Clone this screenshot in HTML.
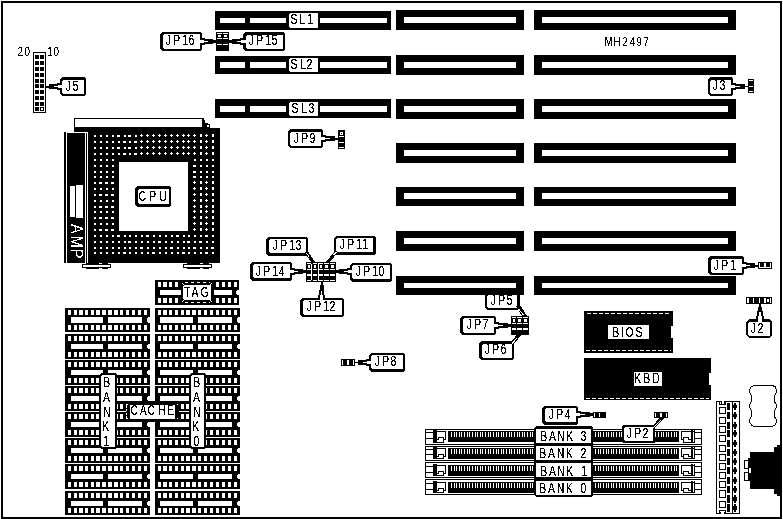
<!DOCTYPE html>
<html lang="en">
<head>
<meta charset="utf-8">
<title>MH2497 motherboard layout</title>
<style>
html,body{margin:0;padding:0;background:#fff;overflow:hidden}
svg{display:block;font-family:"Liberation Sans",sans-serif;font-kerning:none}
</style>
</head>
<body>
<svg width="783" height="519" viewBox="0 0 783 519">
<defs>
<filter id="bw" x="0" y="0" width="783" height="519" filterUnits="userSpaceOnUse" color-interpolation-filters="sRGB">
<feComponentTransfer><feFuncA type="discrete" tableValues="0 0 1 1 1"/></feComponentTransfer>
</filter>
<filter id="bw2" x="0" y="0" width="783" height="519" filterUnits="userSpaceOnUse" color-interpolation-filters="sRGB">
<feComponentTransfer><feFuncA type="discrete" tableValues="0 1"/></feComponentTransfer>
</filter>
</defs>
<rect width="783" height="519" fill="#fff"/>
<g shape-rendering="crispEdges">
<rect x="1" y="1" width="781" height="518" fill="#000"/>
<rect x="3" y="3" width="777" height="514" fill="#fff"/>
<rect x="215" y="11" width="176" height="19" fill="#000"/>
<rect x="220" y="18" width="25" height="5" fill="#fff"/>
<rect x="250" y="18" width="137" height="5" fill="#fff"/>
<rect x="286" y="18" width="34" height="5" fill="#000"/>
<polygon points="290,13 317,13 318,14 318,27 317,28 290,28 289,27 289,14" fill="#fff"/>
<rect x="215" y="56" width="176" height="18" fill="#000"/>
<rect x="220" y="62" width="25" height="6" fill="#fff"/>
<rect x="250" y="62" width="137" height="6" fill="#fff"/>
<rect x="286" y="62" width="34" height="6" fill="#000"/>
<polygon points="290,58 317,58 318,59 318,71 317,72 290,72 289,71 289,59" fill="#fff"/>
<rect x="215" y="99" width="176" height="19" fill="#000"/>
<rect x="220" y="106" width="25" height="6" fill="#fff"/>
<rect x="250" y="106" width="137" height="6" fill="#fff"/>
<rect x="286" y="106" width="34" height="6" fill="#000"/>
<polygon points="290,102 317,102 318,103 318,115 317,116 290,116 289,115 289,103" fill="#fff"/>
<rect x="396" y="10" width="128" height="20" fill="#000"/>
<rect x="404" y="17" width="112" height="6" fill="#fff"/>
<rect x="534" y="10" width="202" height="20" fill="#000"/>
<rect x="542" y="17" width="186" height="6" fill="#fff"/>
<rect x="396" y="55" width="128" height="20" fill="#000"/>
<rect x="404" y="62" width="112" height="6" fill="#fff"/>
<rect x="534" y="55" width="202" height="20" fill="#000"/>
<rect x="542" y="62" width="186" height="6" fill="#fff"/>
<rect x="396" y="99" width="128" height="20" fill="#000"/>
<rect x="404" y="106" width="112" height="6" fill="#fff"/>
<rect x="534" y="99" width="202" height="20" fill="#000"/>
<rect x="542" y="106" width="186" height="6" fill="#fff"/>
<rect x="396" y="143" width="128" height="20" fill="#000"/>
<rect x="404" y="150" width="112" height="6" fill="#fff"/>
<rect x="534" y="143" width="202" height="20" fill="#000"/>
<rect x="542" y="150" width="186" height="6" fill="#fff"/>
<rect x="396" y="187" width="128" height="19" fill="#000"/>
<rect x="404" y="193" width="112" height="6" fill="#fff"/>
<rect x="534" y="187" width="202" height="19" fill="#000"/>
<rect x="542" y="193" width="186" height="6" fill="#fff"/>
<rect x="396" y="231" width="128" height="20" fill="#000"/>
<rect x="404" y="238" width="112" height="6" fill="#fff"/>
<rect x="534" y="231" width="202" height="20" fill="#000"/>
<rect x="542" y="238" width="186" height="6" fill="#fff"/>
<rect x="396" y="276" width="128" height="19" fill="#000"/>
<rect x="404" y="283" width="112" height="5" fill="#fff"/>
<rect x="534" y="276" width="202" height="19" fill="#000"/>
<rect x="542" y="283" width="186" height="5" fill="#fff"/>
<rect x="33" y="52" width="13" height="61" fill="#000"/>
<rect x="34" y="53" width="11" height="59" fill="#fff"/>
<rect x="35" y="55" width="4" height="4" fill="#000"/>
<rect x="40" y="55" width="4" height="4" fill="#000"/>
<rect x="35" y="61" width="4" height="4" fill="#000"/>
<rect x="40" y="61" width="4" height="4" fill="#000"/>
<rect x="35" y="67" width="4" height="4" fill="#000"/>
<rect x="40" y="67" width="4" height="4" fill="#000"/>
<rect x="35" y="73" width="4" height="4" fill="#000"/>
<rect x="40" y="73" width="4" height="4" fill="#000"/>
<rect x="35" y="79" width="4" height="4" fill="#000"/>
<rect x="40" y="79" width="4" height="4" fill="#000"/>
<rect x="35" y="84" width="4" height="4" fill="#000"/>
<rect x="40" y="84" width="4" height="4" fill="#000"/>
<rect x="35" y="90" width="4" height="4" fill="#000"/>
<rect x="40" y="90" width="4" height="4" fill="#000"/>
<rect x="35" y="96" width="4" height="4" fill="#000"/>
<rect x="40" y="96" width="4" height="4" fill="#000"/>
<rect x="35" y="102" width="4" height="4" fill="#000"/>
<rect x="40" y="102" width="4" height="4" fill="#000"/>
<rect x="35" y="107" width="4" height="4" fill="#000"/>
<rect x="40" y="107" width="4" height="4" fill="#000"/>
<rect x="41" y="108" width="2" height="2" fill="#fff"/>
<polygon points="62,77 84,77 86,79 86,94 84,96 62,96 60,94 60,79" fill="#000"/>
<polygon points="63,80 83,80 84,81 84,93 83,94 63,94 62,93 62,81" fill="#fff"/>
<path d="M57 83H62V85H57zM49 84H58V86H49zM49 87H59V89H49zM57 88H62V90H57zM49 84H54V89H49zM46 86H54V87H46zM46 86H49V88H46z" fill="#000"/>
<path d="M58 85H62V88H58zM54 86H58V87H54z" fill="#fff"/>
<polygon points="162,32 200,32 202,34 202,49 200,51 162,51 160,49 160,34" fill="#000"/>
<polygon points="164,34 199,34 200,35 200,48 199,49 164,49 163,48 163,35" fill="#fff"/>
<path d="M200 38H205V40H200zM204 39H213V41H204zM203 42H213V44H203zM200 43H205V45H200zM208 39H213V44H208zM208 41H216V42H208zM213 40H216V43H213z" fill="#000"/>
<path d="M200 40H204V43H200zM204 41H208V42H204z" fill="#fff"/>
<polygon points="245,32 283,32 285,34 285,49 283,51 245,51 243,49 243,34" fill="#000"/>
<polygon points="247,35 282,35 283,36 283,48 282,49 247,49 246,48 246,36" fill="#fff"/>
<path d="M240 38H246V40H240zM232 39H241V41H232zM232 42H242V44H232zM240 43H246V45H240zM232 39H237V44H232zM229 41H237V42H229zM229 40H232V43H229z" fill="#000"/>
<path d="M241 40H246V43H241zM237 41H241V42H237z" fill="#fff"/>
<rect x="216" y="32" width="13" height="19" fill="#000"/>
<rect x="217" y="33" width="5" height="1" fill="#fff"/>
<rect x="218" y="35" width="3" height="2" fill="#fff"/>
<rect x="217" y="38" width="5" height="1" fill="#fff"/>
<rect x="217" y="44" width="5" height="1" fill="#fff"/>
<rect x="223" y="33" width="5" height="1" fill="#fff"/>
<rect x="224" y="35" width="3" height="2" fill="#fff"/>
<rect x="223" y="38" width="5" height="1" fill="#fff"/>
<rect x="223" y="44" width="5" height="1" fill="#fff"/>
<polygon points="290,129 321,129 323,131 323,146 321,148 290,148 288,146 288,131" fill="#000"/>
<polygon points="291,132 320,132 321,133 321,145 320,146 291,146 290,145 290,133" fill="#fff"/>
<path d="M321 135H326V137H321zM325 136H335V138H325zM324 139H335V141H324zM321 140H326V142H321zM330 136H335V141H330zM329 138H338V139H329zM335 138H338V140H335z" fill="#000"/>
<path d="M321 137H325V140H321zM325 138H330V139H325z" fill="#fff"/>
<rect x="338" y="130" width="7" height="19" fill="#000"/>
<rect x="340" y="132" width="3" height="3" fill="#fff"/>
<rect x="341" y="133" width="1" height="1" fill="#000"/>
<rect x="339" y="136" width="5" height="1" fill="#fff"/>
<rect x="339" y="142" width="5" height="1" fill="#fff"/>
<rect x="339" y="147" width="5" height="1" fill="#fff"/>
<polygon points="710,77 731,77 733,79 733,94 731,96 710,96 708,94 708,79" fill="#000"/>
<polygon points="711,80 730,80 731,81 731,93 730,94 711,94 710,93 710,81" fill="#fff"/>
<path d="M731 83H736V85H731zM735 84H745V86H735zM734 87H745V89H734zM731 88H736V90H731zM740 84H745V89H740zM739 86H748V87H739zM745 86H748V87H745z" fill="#000"/>
<path d="M731 85H735V88H731zM735 86H740V87H735z" fill="#fff"/>
<rect x="748" y="79" width="6" height="14" fill="#000"/>
<rect x="749" y="80" width="4" height="1" fill="#fff"/>
<rect x="749" y="86" width="4" height="1" fill="#fff"/>
<rect x="749" y="91" width="4" height="1" fill="#fff"/>
<polygon points="710,256 742,256 744,258 744,273 742,275 710,275 708,273 708,258" fill="#000"/>
<polygon points="712,259 741,259 742,260 742,272 741,273 712,273 711,272 711,260" fill="#fff"/>
<path d="M742 262H747V264H742zM746 263H755V265H746zM745 266H755V268H745zM742 267H747V269H742zM750 263H755V268H750zM750 265H758V266H750zM755 265H758V267H755z" fill="#000"/>
<path d="M742 264H746V267H742zM746 265H750V266H746z" fill="#fff"/>
<rect x="758" y="262" width="14" height="7" fill="#000"/>
<path d="M759 263H760V267H759zM764 263H766V267H764zM770 263H771V267H770zM759 267H771V268H759z" fill="#fff"/>
<rect x="746" y="297" width="26" height="7" fill="#000"/>
<rect x="747" y="298" width="2" height="5" fill="#fff"/>
<rect x="753" y="298" width="1" height="5" fill="#fff"/>
<rect x="759" y="298" width="1" height="5" fill="#fff"/>
<rect x="764" y="298" width="2" height="5" fill="#fff"/>
<rect x="770" y="298" width="1" height="5" fill="#fff"/>
<rect x="767" y="299" width="2" height="3" fill="#fff"/>
<polygon points="749,319 769,319 772,322 772,335 769,338 749,338 746,335 746,322" fill="#000"/>
<polygon points="749,322 769,322 770,323 770,335 769,336 749,336 748,335 748,323" fill="#fff"/>
<path d="M759 304H761V307H759zM758 307H762V313H758zM757 311H759V318H757zM761 311H763V318H761zM756 316H758V320H756zM762 316H764V320H762z" fill="#000"/>
<path d="M759 312H761V316H759zM758 316H762V322H758z" fill="#fff"/>
<rect x="74" y="118" width="130" height="10" fill="#000"/>
<rect x="75" y="119" width="127" height="8" fill="#fff"/>
<polygon points="202,118 204,118 204,120 205,120 205,123 208,123 208,124 210,124 210,128 202,128" fill="#000"/>
<rect x="207" y="125" width="2" height="2" fill="#fff"/>
<rect x="74" y="127" width="136" height="136" fill="#000"/>
<rect x="210" y="128" width="10" height="135" fill="#000"/>
<path d="M94 135h2v2h-2zM100 135h2v2h-2zM106 135h2v2h-2zM112 135h2v2h-2zM117 135h3v2h-3zM124 135h2v2h-2zM128 135h3v2h-3zM135 135h2v2h-2zM141 134h1v1h1v1h-1v1h-1v-1h-1v-1h1zM147 134h1v1h1v1h-1v1h-1v-1h-1v-1h1zM153 134h1v1h1v1h-1v1h-1v-1h-1v-1h1zM159 134h1v1h1v1h-1v1h-1v-1h-1v-1h1zM165 134h1v1h1v1h-1v1h-1v-1h-1v-1h1zM171 134h1v1h1v1h-1v1h-1v-1h-1v-1h1zM177 134h1v1h1v1h-1v1h-1v-1h-1v-1h1zM183 134h1v1h1v1h-1v1h-1v-1h-1v-1h1zM188 134h1v1h1v1h-1v1h-1v-1h-1v-1h1zM194 134h1v1h1v1h-1v1h-1v-1h-1v-1h1zM200 134h2v3h-2zM206 134h1v1h1v1h-1v1h-1v-1h-1v-1h1zM212 134h2v3h-2zM94 141h2v2h-2zM100 141h2v2h-2zM106 141h2v2h-2zM112 141h2v2h-2zM118 141h2v2h-2zM123 141h3v2h-3zM129 141h2v2h-2zM134 141h3v2h-3zM141 140h1v1h1v1h-1v1h-1v-1h-1v-1h1zM147 140h1v1h1v1h-1v1h-1v-1h-1v-1h1zM153 140h1v1h1v1h-1v1h-1v-1h-1v-1h1zM159 140h1v1h1v1h-1v1h-1v-1h-1v-1h1zM165 140h1v1h1v1h-1v1h-1v-1h-1v-1h1zM171 140h1v1h1v1h-1v1h-1v-1h-1v-1h1zM177 140h1v1h1v1h-1v1h-1v-1h-1v-1h1zM183 140h1v1h1v1h-1v1h-1v-1h-1v-1h1zM188 140h1v1h1v1h-1v1h-1v-1h-1v-1h1zM194 140h1v1h1v1h-1v1h-1v-1h-1v-1h1zM200 140h2v3h-2zM206 140h1v1h1v1h-1v1h-1v-1h-1v-1h1zM212 140h2v3h-2zM94 147h2v2h-2zM100 147h2v2h-2zM106 147h2v2h-2zM112 147h2v2h-2zM117 147h3v2h-3zM124 147h2v2h-2zM128 147h3v2h-3zM135 147h2v2h-2zM141 146h1v1h1v1h-1v1h-1v-1h-1v-1h1zM147 146h1v1h1v1h-1v1h-1v-1h-1v-1h1zM153 146h1v1h1v1h-1v1h-1v-1h-1v-1h1zM159 146h1v1h1v1h-1v1h-1v-1h-1v-1h1zM165 146h1v1h1v1h-1v1h-1v-1h-1v-1h1zM171 146h1v1h1v1h-1v1h-1v-1h-1v-1h1zM177 146h1v1h1v1h-1v1h-1v-1h-1v-1h1zM183 146h1v1h1v1h-1v1h-1v-1h-1v-1h1zM188 146h1v1h1v1h-1v1h-1v-1h-1v-1h1zM194 146h1v1h1v1h-1v1h-1v-1h-1v-1h1zM200 146h2v3h-2zM206 146h1v1h1v1h-1v1h-1v-1h-1v-1h1zM212 146h2v3h-2zM94 153h2v2h-2zM100 153h2v2h-2zM106 153h2v2h-2zM112 153h2v2h-2zM118 153h2v2h-2zM123 153h3v2h-3zM129 153h2v2h-2zM134 153h3v2h-3zM141 152h1v1h1v1h-1v1h-1v-1h-1v-1h1zM147 152h1v1h1v1h-1v1h-1v-1h-1v-1h1zM153 152h1v1h1v1h-1v1h-1v-1h-1v-1h1zM159 152h1v1h1v1h-1v1h-1v-1h-1v-1h1zM165 152h1v1h1v1h-1v1h-1v-1h-1v-1h1zM171 152h1v1h1v1h-1v1h-1v-1h-1v-1h1zM177 152h1v1h1v1h-1v1h-1v-1h-1v-1h1zM183 152h1v1h1v1h-1v1h-1v-1h-1v-1h1zM188 152h1v1h1v1h-1v1h-1v-1h-1v-1h1zM194 152h1v1h1v1h-1v1h-1v-1h-1v-1h1zM200 152h2v3h-2zM206 152h1v1h1v1h-1v1h-1v-1h-1v-1h1zM212 152h2v3h-2zM94 159h2v2h-2zM100 159h2v2h-2zM106 159h2v2h-2zM112 159h2v2h-2zM194 159h2v2h-2zM200 159h2v2h-2zM206 159h2v2h-2zM212 159h2v2h-2zM94 165h2v2h-2zM100 165h2v2h-2zM106 165h2v2h-2zM112 165h2v2h-2zM193 165h3v2h-3zM200 165h2v2h-2zM206 165h2v2h-2zM212 165h2v2h-2zM94 171h2v2h-2zM100 171h2v2h-2zM106 171h2v2h-2zM112 171h2v2h-2zM193 171h3v2h-3zM200 171h2v2h-2zM206 171h2v2h-2zM212 171h2v2h-2zM94 176h2v2h-2zM100 176h2v2h-2zM106 176h2v2h-2zM112 176h2v2h-2zM193 176h3v2h-3zM200 176h2v2h-2zM206 176h2v2h-2zM212 176h2v2h-2zM94 182h2v2h-2zM99 182h3v2h-3zM105 182h3v2h-3zM111 182h3v2h-3zM194 181h1v1h1v1h-1v1h-1v-1h-1v-1h1zM200 181h2v3h-2zM206 181h1v1h1v1h-1v1h-1v-1h-1v-1h1zM212 181h2v3h-2zM94 188h2v2h-2zM100 188h2v2h-2zM106 188h2v2h-2zM112 188h2v2h-2zM194 187h1v1h1v1h-1v1h-1v-1h-1v-1h1zM200 187h2v3h-2zM206 187h1v1h1v1h-1v1h-1v-1h-1v-1h1zM212 187h2v3h-2zM94 194h2v2h-2zM99 194h3v2h-3zM105 194h3v2h-3zM111 194h3v2h-3zM194 193h1v1h1v1h-1v1h-1v-1h-1v-1h1zM200 193h2v3h-2zM206 193h1v1h1v1h-1v1h-1v-1h-1v-1h1zM212 193h2v3h-2zM94 200h2v2h-2zM100 200h2v2h-2zM106 200h2v2h-2zM112 200h2v2h-2zM194 199h1v1h1v1h-1v1h-1v-1h-1v-1h1zM200 199h2v3h-2zM206 199h1v1h1v1h-1v1h-1v-1h-1v-1h1zM212 199h2v3h-2zM94 206h2v2h-2zM99 206h3v2h-3zM105 206h3v2h-3zM111 206h3v2h-3zM194 205h1v1h1v1h-1v1h-1v-1h-1v-1h1zM200 205h2v3h-2zM206 205h1v1h1v1h-1v1h-1v-1h-1v-1h1zM212 205h2v3h-2zM94 211h2v2h-2zM100 211h2v2h-2zM106 211h2v2h-2zM112 211h2v2h-2zM194 210h1v1h1v1h-1v1h-1v-1h-1v-1h1zM200 210h2v3h-2zM206 210h1v1h1v1h-1v1h-1v-1h-1v-1h1zM212 210h2v3h-2zM94 217h2v2h-2zM99 217h3v2h-3zM105 217h3v2h-3zM111 217h3v2h-3zM194 216h1v1h1v1h-1v1h-1v-1h-1v-1h1zM200 216h2v3h-2zM206 216h1v1h1v1h-1v1h-1v-1h-1v-1h1zM212 216h2v3h-2zM94 223h2v2h-2zM100 223h2v2h-2zM106 223h2v2h-2zM112 223h2v2h-2zM194 222h1v1h1v1h-1v1h-1v-1h-1v-1h1zM200 222h2v3h-2zM206 222h1v1h1v1h-1v1h-1v-1h-1v-1h1zM212 222h2v3h-2zM94 229h2v2h-2zM99 229h3v2h-3zM105 229h3v2h-3zM111 229h3v2h-3zM194 228h1v1h1v1h-1v1h-1v-1h-1v-1h1zM200 228h2v3h-2zM206 228h1v1h1v1h-1v1h-1v-1h-1v-1h1zM212 228h2v3h-2zM94 235h2v2h-2zM100 235h2v2h-2zM106 235h2v2h-2zM112 235h2v2h-2zM117 235h3v2h-3zM124 235h2v2h-2zM129 235h2v2h-2zM135 235h2v2h-2zM141 235h2v2h-2zM146 235h3v2h-3zM153 235h2v2h-2zM159 235h2v2h-2zM165 235h2v2h-2zM171 235h2v2h-2zM176 235h3v2h-3zM183 235h2v2h-2zM188 235h2v2h-2zM194 235h2v2h-2zM200 235h2v2h-2zM205 235h3v2h-3zM212 235h2v2h-2zM94 241h2v2h-2zM100 241h2v2h-2zM106 241h2v2h-2zM112 241h2v2h-2zM118 241h2v2h-2zM124 241h2v2h-2zM128 241h3v2h-3zM135 241h2v2h-2zM141 241h2v2h-2zM147 241h2v2h-2zM153 241h2v2h-2zM158 241h3v2h-3zM165 241h2v2h-2zM171 241h2v2h-2zM177 241h2v2h-2zM183 241h2v2h-2zM187 241h3v2h-3zM194 241h2v2h-2zM199 241h3v2h-3zM206 241h2v2h-2zM212 241h2v2h-2zM94 247h2v2h-2zM100 247h2v2h-2zM106 247h2v2h-2zM112 247h2v2h-2zM118 247h2v2h-2zM124 247h2v2h-2zM129 247h2v2h-2zM135 247h2v2h-2zM140 247h3v2h-3zM147 247h2v2h-2zM153 247h2v2h-2zM159 247h2v2h-2zM165 247h2v2h-2zM170 247h3v2h-3zM177 247h2v2h-2zM183 247h2v2h-2zM188 247h2v2h-2zM193 247h3v2h-3zM200 247h2v2h-2zM206 247h2v2h-2zM211 247h3v2h-3zM94 252h2v2h-2zM100 252h2v2h-2zM106 252h2v2h-2zM112 252h2v2h-2zM118 252h2v2h-2zM123 252h3v2h-3zM129 252h2v2h-2zM135 252h2v2h-2zM141 252h2v2h-2zM147 252h2v2h-2zM152 252h3v2h-3zM159 252h2v2h-2zM165 252h2v2h-2zM171 252h2v2h-2zM177 252h2v2h-2zM182 252h3v2h-3zM188 252h2v2h-2zM194 252h2v2h-2zM200 252h2v2h-2zM205 252h3v2h-3zM212 252h2v2h-2z" fill="#fff"/>
<rect x="119" y="162" width="69" height="69" fill="#fff"/>
<rect x="64" y="132" width="24" height="131" fill="#000"/>
<rect x="66" y="132" width="1" height="131" fill="#fff"/>
<rect x="85" y="133" width="1" height="130" fill="#fff"/>
<rect x="87" y="133" width="1" height="130" fill="#fff"/>
<rect x="66" y="132" width="22" height="1" fill="#fff"/>
<rect x="70" y="186" width="5" height="31" fill="#fff"/>
<rect x="76" y="185" width="7" height="33" fill="#fff"/>
<rect x="82" y="264" width="29" height="4" fill="#000"/>
<rect x="83" y="265" width="27" height="2" fill="#fff"/>
<rect x="86" y="263" width="13" height="1" fill="#000"/>
<rect x="102" y="263" width="6" height="1" fill="#000"/>
<rect x="86" y="268" width="13" height="1" fill="#000"/>
<rect x="102" y="268" width="6" height="1" fill="#000"/>
<rect x="183" y="264" width="29" height="4" fill="#000"/>
<rect x="184" y="265" width="27" height="2" fill="#fff"/>
<rect x="187" y="263" width="13" height="1" fill="#000"/>
<rect x="203" y="263" width="6" height="1" fill="#000"/>
<rect x="187" y="268" width="13" height="1" fill="#000"/>
<rect x="203" y="268" width="6" height="1" fill="#000"/>
<polygon points="137,186 169,186 171,188 171,205 169,207 137,207 135,205 135,188" fill="#000"/>
<polygon points="139,189 168,189 169,190 169,203 168,204 139,204 138,203 138,190" fill="#fff"/>
<rect x="65" y="308" width="85" height="24" fill="#000"/>
<path d="M68 310H71V315H68zM68 325H71V330H68zM74 310H77V315H74zM74 325H77V330H74zM79 310H83V315H79zM79 325H83V330H79zM85 310H88V315H85zM85 325H88V330H85zM91 310H94V315H91zM91 325H94V330H91zM96 310H100V315H96zM96 325H100V330H96zM102 310H106V315H102zM102 325H106V330H102zM108 310H112V315H108zM108 325H112V330H108zM114 310H118V315H114zM114 325H118V330H114zM120 310H123V315H120zM120 325H123V330H120zM126 310H129V315H126zM126 325H129V330H126zM132 310H135V315H132zM132 325H135V330H132zM138 310H141V315H138zM138 325H141V330H138zM144 310H147V315H144zM144 325H147V330H144z" fill="#fff"/>
<rect x="71" y="317" width="32" height="6" fill="#fff"/>
<rect x="108" y="317" width="34" height="6" fill="#fff"/>
<polygon points="150,317 148,317 147,318 147,322 148,323 150,323" fill="#fff"/>
<rect x="155" y="308" width="85" height="24" fill="#000"/>
<path d="M158 310H161V315H158zM158 325H161V330H158zM163 310H167V315H163zM163 325H167V330H163zM169 310H172V315H169zM169 325H172V330H169zM175 310H178V315H175zM175 325H178V330H175zM181 310H184V315H181zM181 325H184V330H181zM186 310H190V315H186zM186 325H190V330H186zM192 310H196V315H192zM192 325H196V330H192zM198 310H201V315H198zM198 325H201V330H198zM204 310H207V315H204zM204 325H207V330H204zM210 310H213V315H210zM210 325H213V330H210zM216 310H219V315H216zM216 325H219V330H216zM222 310H225V315H222zM222 325H225V330H222zM228 310H231V315H228zM228 325H231V330H228zM234 310H237V315H234zM234 325H237V330H234z" fill="#fff"/>
<rect x="160" y="317" width="33" height="6" fill="#fff"/>
<rect x="198" y="317" width="34" height="6" fill="#fff"/>
<polygon points="240,317 238,317 237,318 237,322 238,323 240,323" fill="#fff"/>
<rect x="65" y="334" width="85" height="25" fill="#000"/>
<path d="M68 336H71V341H68zM68 352H71V357H68zM74 336H77V341H74zM74 352H77V357H74zM79 336H83V341H79zM79 352H83V357H79zM85 336H88V341H85zM85 352H88V357H85zM91 336H94V341H91zM91 352H94V357H91zM96 336H100V341H96zM96 352H100V357H96zM102 336H106V341H102zM102 352H106V357H102zM108 336H112V341H108zM108 352H112V357H108zM114 336H118V341H114zM114 352H118V357H114zM120 336H123V341H120zM120 352H123V357H120zM126 336H129V341H126zM126 352H129V357H126zM132 336H135V341H132zM132 352H135V357H132zM138 336H141V341H138zM138 352H141V357H138zM144 336H147V341H144zM144 352H147V357H144z" fill="#fff"/>
<rect x="71" y="344" width="32" height="5" fill="#fff"/>
<rect x="108" y="344" width="34" height="5" fill="#fff"/>
<polygon points="150,344 148,344 147,345 147,348 148,349 150,349" fill="#fff"/>
<rect x="155" y="334" width="85" height="25" fill="#000"/>
<path d="M158 336H161V341H158zM158 352H161V357H158zM163 336H167V341H163zM163 352H167V357H163zM169 336H172V341H169zM169 352H172V357H169zM175 336H178V341H175zM175 352H178V357H175zM181 336H184V341H181zM181 352H184V357H181zM186 336H190V341H186zM186 352H190V357H186zM192 336H196V341H192zM192 352H196V357H192zM198 336H201V341H198zM198 352H201V357H198zM204 336H207V341H204zM204 352H207V357H204zM210 336H213V341H210zM210 352H213V357H210zM216 336H219V341H216zM216 352H219V357H216zM222 336H225V341H222zM222 352H225V357H222zM228 336H231V341H228zM228 352H231V357H228zM234 336H237V341H234zM234 352H237V357H234z" fill="#fff"/>
<rect x="160" y="344" width="33" height="5" fill="#fff"/>
<rect x="198" y="344" width="34" height="5" fill="#fff"/>
<polygon points="240,344 238,344 237,345 237,348 238,349 240,349" fill="#fff"/>
<rect x="65" y="360" width="85" height="25" fill="#000"/>
<path d="M68 362H71V367H68zM68 378H71V383H68zM74 362H77V367H74zM74 378H77V383H74zM79 362H83V367H79zM79 378H83V383H79zM85 362H88V367H85zM85 378H88V383H85zM91 362H94V367H91zM91 378H94V383H91zM96 362H100V367H96zM96 378H100V383H96zM102 362H106V367H102zM102 378H106V383H102zM108 362H112V367H108zM108 378H112V383H108zM114 362H118V367H114zM114 378H118V383H114zM120 362H123V367H120zM120 378H123V383H120zM126 362H129V367H126zM126 378H129V383H126zM132 362H135V367H132zM132 378H135V383H132zM138 362H141V367H138zM138 378H141V383H138zM144 362H147V367H144zM144 378H147V383H144z" fill="#fff"/>
<rect x="71" y="370" width="32" height="5" fill="#fff"/>
<rect x="108" y="370" width="34" height="5" fill="#fff"/>
<polygon points="150,370 148,370 147,371 147,374 148,375 150,375" fill="#fff"/>
<rect x="155" y="360" width="85" height="25" fill="#000"/>
<path d="M158 362H161V367H158zM158 378H161V383H158zM163 362H167V367H163zM163 378H167V383H163zM169 362H172V367H169zM169 378H172V383H169zM175 362H178V367H175zM175 378H178V383H175zM181 362H184V367H181zM181 378H184V383H181zM186 362H190V367H186zM186 378H190V383H186zM192 362H196V367H192zM192 378H196V383H192zM198 362H201V367H198zM198 378H201V383H198zM204 362H207V367H204zM204 378H207V383H204zM210 362H213V367H210zM210 378H213V383H210zM216 362H219V367H216zM216 378H219V383H216zM222 362H225V367H222zM222 378H225V383H222zM228 362H231V367H228zM228 378H231V383H228zM234 362H237V367H234zM234 378H237V383H234z" fill="#fff"/>
<rect x="160" y="370" width="33" height="5" fill="#fff"/>
<rect x="198" y="370" width="34" height="5" fill="#fff"/>
<polygon points="240,370 238,370 237,371 237,374 238,375 240,375" fill="#fff"/>
<rect x="65" y="386" width="85" height="25" fill="#000"/>
<path d="M68 388H71V393H68zM68 404H71V409H68zM74 388H77V393H74zM74 404H77V409H74zM79 388H83V393H79zM79 404H83V409H79zM85 388H88V393H85zM85 404H88V409H85zM91 388H94V393H91zM91 404H94V409H91zM96 388H100V393H96zM96 404H100V409H96zM102 388H106V393H102zM102 404H106V409H102zM108 388H112V393H108zM108 404H112V409H108zM114 388H118V393H114zM114 404H118V409H114zM120 388H123V393H120zM120 404H123V409H120zM126 388H129V393H126zM126 404H129V409H126zM132 388H135V393H132zM132 404H135V409H132zM138 388H141V393H138zM138 404H141V409H138zM144 388H147V393H144zM144 404H147V409H144z" fill="#fff"/>
<rect x="71" y="396" width="32" height="5" fill="#fff"/>
<rect x="108" y="396" width="34" height="5" fill="#fff"/>
<polygon points="150,396 148,396 147,397 147,400 148,401 150,401" fill="#fff"/>
<rect x="155" y="386" width="85" height="25" fill="#000"/>
<path d="M158 388H161V393H158zM158 404H161V409H158zM163 388H167V393H163zM163 404H167V409H163zM169 388H172V393H169zM169 404H172V409H169zM175 388H178V393H175zM175 404H178V409H175zM181 388H184V393H181zM181 404H184V409H181zM186 388H190V393H186zM186 404H190V409H186zM192 388H196V393H192zM192 404H196V409H192zM198 388H201V393H198zM198 404H201V409H198zM204 388H207V393H204zM204 404H207V409H204zM210 388H213V393H210zM210 404H213V409H210zM216 388H219V393H216zM216 404H219V409H216zM222 388H225V393H222zM222 404H225V409H222zM228 388H231V393H228zM228 404H231V409H228zM234 388H237V393H234zM234 404H237V409H234z" fill="#fff"/>
<rect x="160" y="396" width="33" height="5" fill="#fff"/>
<rect x="198" y="396" width="34" height="5" fill="#fff"/>
<polygon points="240,396 238,396 237,397 237,400 238,401 240,401" fill="#fff"/>
<rect x="65" y="412" width="85" height="25" fill="#000"/>
<path d="M68 414H71V419H68zM68 430H71V435H68zM74 414H77V419H74zM74 430H77V435H74zM79 414H83V419H79zM79 430H83V435H79zM85 414H88V419H85zM85 430H88V435H85zM91 414H94V419H91zM91 430H94V435H91zM96 414H100V419H96zM96 430H100V435H96zM102 414H106V419H102zM102 430H106V435H102zM108 414H112V419H108zM108 430H112V435H108zM114 414H118V419H114zM114 430H118V435H114zM120 414H123V419H120zM120 430H123V435H120zM126 414H129V419H126zM126 430H129V435H126zM132 414H135V419H132zM132 430H135V435H132zM138 414H141V419H138zM138 430H141V435H138zM144 414H147V419H144zM144 430H147V435H144z" fill="#fff"/>
<rect x="71" y="422" width="32" height="5" fill="#fff"/>
<rect x="108" y="422" width="34" height="5" fill="#fff"/>
<polygon points="150,422 148,422 147,423 147,426 148,427 150,427" fill="#fff"/>
<rect x="155" y="412" width="85" height="25" fill="#000"/>
<path d="M158 414H161V419H158zM158 430H161V435H158zM163 414H167V419H163zM163 430H167V435H163zM169 414H172V419H169zM169 430H172V435H169zM175 414H178V419H175zM175 430H178V435H175zM181 414H184V419H181zM181 430H184V435H181zM186 414H190V419H186zM186 430H190V435H186zM192 414H196V419H192zM192 430H196V435H192zM198 414H201V419H198zM198 430H201V435H198zM204 414H207V419H204zM204 430H207V435H204zM210 414H213V419H210zM210 430H213V435H210zM216 414H219V419H216zM216 430H219V435H216zM222 414H225V419H222zM222 430H225V435H222zM228 414H231V419H228zM228 430H231V435H228zM234 414H237V419H234zM234 430H237V435H234z" fill="#fff"/>
<rect x="160" y="422" width="33" height="5" fill="#fff"/>
<rect x="198" y="422" width="34" height="5" fill="#fff"/>
<polygon points="240,422 238,422 237,423 237,426 238,427 240,427" fill="#fff"/>
<rect x="65" y="438" width="85" height="25" fill="#000"/>
<path d="M68 440H71V445H68zM68 456H71V461H68zM74 440H77V445H74zM74 456H77V461H74zM79 440H83V445H79zM79 456H83V461H79zM85 440H88V445H85zM85 456H88V461H85zM91 440H94V445H91zM91 456H94V461H91zM96 440H100V445H96zM96 456H100V461H96zM102 440H106V445H102zM102 456H106V461H102zM108 440H112V445H108zM108 456H112V461H108zM114 440H118V445H114zM114 456H118V461H114zM120 440H123V445H120zM120 456H123V461H120zM126 440H129V445H126zM126 456H129V461H126zM132 440H135V445H132zM132 456H135V461H132zM138 440H141V445H138zM138 456H141V461H138zM144 440H147V445H144zM144 456H147V461H144z" fill="#fff"/>
<rect x="71" y="448" width="32" height="5" fill="#fff"/>
<rect x="108" y="448" width="34" height="5" fill="#fff"/>
<polygon points="150,448 148,448 147,449 147,452 148,453 150,453" fill="#fff"/>
<rect x="155" y="438" width="85" height="25" fill="#000"/>
<path d="M158 440H161V445H158zM158 456H161V461H158zM163 440H167V445H163zM163 456H167V461H163zM169 440H172V445H169zM169 456H172V461H169zM175 440H178V445H175zM175 456H178V461H175zM181 440H184V445H181zM181 456H184V461H181zM186 440H190V445H186zM186 456H190V461H186zM192 440H196V445H192zM192 456H196V461H192zM198 440H201V445H198zM198 456H201V461H198zM204 440H207V445H204zM204 456H207V461H204zM210 440H213V445H210zM210 456H213V461H210zM216 440H219V445H216zM216 456H219V461H216zM222 440H225V445H222zM222 456H225V461H222zM228 440H231V445H228zM228 456H231V461H228zM234 440H237V445H234zM234 456H237V461H234z" fill="#fff"/>
<rect x="160" y="448" width="33" height="5" fill="#fff"/>
<rect x="198" y="448" width="34" height="5" fill="#fff"/>
<polygon points="240,448 238,448 237,449 237,452 238,453 240,453" fill="#fff"/>
<rect x="65" y="464" width="85" height="25" fill="#000"/>
<path d="M68 466H71V471H68zM68 482H71V487H68zM74 466H77V471H74zM74 482H77V487H74zM79 466H83V471H79zM79 482H83V487H79zM85 466H88V471H85zM85 482H88V487H85zM91 466H94V471H91zM91 482H94V487H91zM96 466H100V471H96zM96 482H100V487H96zM102 466H106V471H102zM102 482H106V487H102zM108 466H112V471H108zM108 482H112V487H108zM114 466H118V471H114zM114 482H118V487H114zM120 466H123V471H120zM120 482H123V487H120zM126 466H129V471H126zM126 482H129V487H126zM132 466H135V471H132zM132 482H135V487H132zM138 466H141V471H138zM138 482H141V487H138zM144 466H147V471H144zM144 482H147V487H144z" fill="#fff"/>
<rect x="71" y="474" width="32" height="5" fill="#fff"/>
<rect x="108" y="474" width="34" height="5" fill="#fff"/>
<polygon points="150,474 148,474 147,475 147,478 148,479 150,479" fill="#fff"/>
<rect x="155" y="464" width="85" height="25" fill="#000"/>
<path d="M158 466H161V471H158zM158 482H161V487H158zM163 466H167V471H163zM163 482H167V487H163zM169 466H172V471H169zM169 482H172V487H169zM175 466H178V471H175zM175 482H178V487H175zM181 466H184V471H181zM181 482H184V487H181zM186 466H190V471H186zM186 482H190V487H186zM192 466H196V471H192zM192 482H196V487H192zM198 466H201V471H198zM198 482H201V487H198zM204 466H207V471H204zM204 482H207V487H204zM210 466H213V471H210zM210 482H213V487H210zM216 466H219V471H216zM216 482H219V487H216zM222 466H225V471H222zM222 482H225V487H222zM228 466H231V471H228zM228 482H231V487H228zM234 466H237V471H234zM234 482H237V487H234z" fill="#fff"/>
<rect x="160" y="474" width="33" height="5" fill="#fff"/>
<rect x="198" y="474" width="34" height="5" fill="#fff"/>
<polygon points="240,474 238,474 237,475 237,478 238,479 240,479" fill="#fff"/>
<rect x="65" y="491" width="85" height="24" fill="#000"/>
<path d="M68 493H71V498H68zM68 508H71V513H68zM74 493H77V498H74zM74 508H77V513H74zM79 493H83V498H79zM79 508H83V513H79zM85 493H88V498H85zM85 508H88V513H85zM91 493H94V498H91zM91 508H94V513H91zM96 493H100V498H96zM96 508H100V513H96zM102 493H106V498H102zM102 508H106V513H102zM108 493H112V498H108zM108 508H112V513H108zM114 493H118V498H114zM114 508H118V513H114zM120 493H123V498H120zM120 508H123V513H120zM126 493H129V498H126zM126 508H129V513H126zM132 493H135V498H132zM132 508H135V513H132zM138 493H141V498H138zM138 508H141V513H138zM144 493H147V498H144zM144 508H147V513H144z" fill="#fff"/>
<rect x="71" y="501" width="32" height="5" fill="#fff"/>
<rect x="108" y="501" width="34" height="5" fill="#fff"/>
<polygon points="150,501 148,501 147,502 147,505 148,506 150,506" fill="#fff"/>
<rect x="155" y="491" width="85" height="24" fill="#000"/>
<path d="M158 493H161V498H158zM158 508H161V513H158zM163 493H167V498H163zM163 508H167V513H163zM169 493H172V498H169zM169 508H172V513H169zM175 493H178V498H175zM175 508H178V513H175zM181 493H184V498H181zM181 508H184V513H181zM186 493H190V498H186zM186 508H190V513H186zM192 493H196V498H192zM192 508H196V513H192zM198 493H201V498H198zM198 508H201V513H198zM204 493H207V498H204zM204 508H207V513H204zM210 493H213V498H210zM210 508H213V513H210zM216 493H219V498H216zM216 508H219V513H216zM222 493H225V498H222zM222 508H225V513H222zM228 493H231V498H228zM228 508H231V513H228zM234 493H237V498H234zM234 508H237V513H234z" fill="#fff"/>
<rect x="160" y="501" width="33" height="5" fill="#fff"/>
<rect x="198" y="501" width="34" height="5" fill="#fff"/>
<polygon points="240,501 238,501 237,502 237,505 238,506 240,506" fill="#fff"/>
<rect x="155" y="280" width="84" height="25" fill="#000"/>
<path d="M158 282H161V287H158zM158 298H161V303H158zM163 282H167V287H163zM163 298H167V303H163zM169 282H172V287H169zM169 298H172V303H169zM175 282H178V287H175zM175 298H178V303H175zM181 282H184V287H181zM181 298H184V303H181zM186 282H190V287H186zM186 298H190V303H186zM192 282H196V287H192zM192 298H196V303H192zM198 282H201V287H198zM198 298H201V303H198zM204 282H207V287H204zM204 298H207V303H204zM210 282H213V287H210zM210 298H213V303H210zM216 282H219V287H216zM216 298H219V303H216zM222 282H225V287H222zM222 298H225V303H222zM228 282H231V287H228zM228 298H231V303H228zM234 282H237V287H234zM234 298H237V303H234z" fill="#fff"/>
<rect x="160" y="290" width="72" height="5" fill="#fff"/>
<polygon points="239,290 237,290 236,291 236,294 237,295 239,295" fill="#fff"/>
<rect x="181" y="282" width="33" height="21" fill="#000"/>
<polygon points="184,285 210,285 211,286 211,299 210,300 184,300 183,299 183,286" fill="#fff"/>
<path d="M185 282.5H210M185 302.5H210" stroke="#fff" stroke-width="1" stroke-dasharray="3 3" fill="none"/>
<path d="M182 283H183V284H182zM183 284H184V285H183zM211 283H212V284H211zM210 284H211V285H210zM182 301H183V302H182zM183 300H184V301H183zM211 301H212V302H211zM210 300H211V301H210z" fill="#fff"/>
<polygon points="101,373 115,373 117,375 117,447 115,449 101,449 99,447 99,375" fill="#000"/>
<polygon points="102,375 114,375 115,376 115,446 114,447 102,447 101,446 101,376" fill="#fff"/>
<polygon points="191,373 204,373 206,375 206,447 204,449 191,449 189,447 189,375" fill="#000"/>
<polygon points="192,375 203,375 204,376 204,446 203,447 192,447 191,446 191,376" fill="#fff"/>
<rect x="125" y="401" width="54" height="21" fill="#000"/>
<rect x="130" y="405" width="45" height="14" fill="#fff"/>
<path d="M126 404H128V405H126zM126 405H127V408H126zM126 409H127V411H126zM126 413H127V415H126zM126 416H127V419H126zM126 418H128V419H126zM177 404H178V405H177zM177 418H178V419H177zM120 411H126V412H120zM179 411H184V412H179z" fill="#fff"/>
<polygon points="268,237 306,237 308,239 308,254 306,256 268,256 266,254 266,239" fill="#000"/>
<polygon points="270,239 305,239 306,240 306,252 305,253 270,253 269,252 269,240" fill="#fff"/>
<polygon points="336,236 374,236 376,238 376,253 374,255 336,255 334,253 334,238" fill="#000"/>
<polygon points="337,238 372,238 373,239 373,251 372,252 337,252 336,251 336,239" fill="#fff"/>
<polygon points="252,262 290,262 292,264 292,279 290,281 252,281 250,279 250,264" fill="#000"/>
<polygon points="254,264 289,264 290,265 290,277 289,278 254,278 253,277 253,265" fill="#fff"/>
<polygon points="352,263 390,263 392,265 392,280 390,282 352,282 350,280 350,265" fill="#000"/>
<polygon points="353,265 389,265 390,266 390,278 389,279 353,279 352,278 352,266" fill="#fff"/>
<polygon points="302,298 342,298 344,300 344,315 342,317 302,317 300,315 300,300" fill="#000"/>
<polygon points="304,300 341,300 342,301 342,314 341,315 304,315 303,314 303,301" fill="#fff"/>
<polygon points="304.5,252 308.5,252 315,262 311,262" fill="#000"/>
<line x1="306.5" y1="253.5" x2="309" y2="256.5" stroke="#fff" stroke-width="1" />
<polygon points="334,252 338,252 330,262 326,262" fill="#000"/>
<line x1="336.5" y1="252" x2="333.5" y2="255" stroke="#fff" stroke-width="1" />
<path d="M290 268H295V270H290zM294 269H303V271H294zM293 272H303V274H293zM290 273H295V275H290zM298 269H303V274H298zM298 271H306V272H298zM303 270H306V273H303z" fill="#000"/>
<path d="M290 270H294V273H290zM294 271H298V272H294z" fill="#fff"/>
<path d="M347 268H352V270H347zM339 269H348V271H339zM339 272H349V274H339zM347 273H352V275H347zM339 269H344V274H339zM336 271H344V272H336zM336 270H339V273H336z" fill="#000"/>
<path d="M348 270H352V273H348zM344 271H348V272H344z" fill="#fff"/>
<path d="M321 282H323V285H321zM320 285H324V292H320zM319 290H321V297H319zM322 290H324V297H322zM318 295H320V299H318zM323 295H325V299H323z" fill="#000"/>
<path d="M321 291H322V295H321zM320 295H323V301H320z" fill="#fff"/>
<rect x="306" y="262" width="30" height="20" fill="#000"/>
<path d="M307 263H311V264H307zM308 265H310V268H308zM307 269H311V270H307zM307 274H311V276H307zM307 280H311V281H307zM313 263H317V264H313zM314 265H316V268H314zM313 269H317V270H313zM313 274H317V276H313zM313 280H317V281H313zM319 263H323V264H319zM320 265H322V268H320zM319 269H323V270H319zM319 274H323V276H319zM319 280H323V281H319zM324 263H329V264H324zM325 265H328V268H325zM324 269H329V270H324zM324 274H329V276H324zM324 280H329V281H324zM330 263H335V264H330zM331 265H334V268H331zM330 269H335V270H330zM330 274H335V276H330zM330 280H335V281H330zM311 264H312V280H311zM318 263H319V281H318z" fill="#fff"/>
<polygon points="487,292 518,292 520,294 520,308 518,310 487,310 485,308 485,294" fill="#000"/>
<polygon points="488,295 516,295 517,296 517,307 516,308 488,308 487,307 487,296" fill="#fff"/>
<rect x="485" y="292" width="35" height="3" fill="#000"/>
<polygon points="462,316 494,316 496,318 496,333 494,335 462,335 460,333 460,318" fill="#000"/>
<polygon points="464,318 493,318 494,319 494,332 493,333 464,333 463,332 463,319" fill="#fff"/>
<polygon points="481,341 512,341 514,343 514,358 512,360 481,360 479,358 479,343" fill="#000"/>
<polygon points="483,344 511,344 512,345 512,357 511,358 483,358 482,357 482,345" fill="#fff"/>
<polygon points="516,306 521,306 527,316 522,316" fill="#000"/>
<line x1="518.5" y1="309" x2="523.5" y2="315" stroke="#fff" stroke-width="1" />
<polygon points="516.6,335 521.4,335 514.4,343.5 509.6,343.5" fill="#000"/>
<line x1="516.5" y1="338.5" x2="511.5" y2="344.5" stroke="#fff" stroke-width="1" />
<path d="M494 322H499V324H494zM498 323H508V325H498zM497 326H508V328H497zM494 327H499V329H494zM503 323H508V328H503zM502 325H511V326H502zM508 324H511V327H508z" fill="#000"/>
<path d="M494 324H498V327H494zM498 325H503V326H498z" fill="#fff"/>
<rect x="511" y="316" width="18" height="19" fill="#000"/>
<path d="M512 317H516V318H512zM513 319H515V322H513zM512 323H516V324H512zM512 328H516V330H512zM517 317H522V318H517zM518 319H521V322H518zM517 323H522V324H517zM517 328H522V330H517zM523 317H528V318H523zM524 319H527V322H524zM523 323H528V324H523zM523 328H528V330H523z" fill="#fff"/>
<polygon points="371,353 403,353 405,355 405,370 403,372 371,372 369,370 369,355" fill="#000"/>
<polygon points="372,355 402,355 403,356 403,368 402,369 372,369 371,368 371,356" fill="#fff"/>
<path d="M366 359H371V361H366zM358 360H367V362H358zM358 363H368V365H358zM366 364H371V366H366zM358 360H363V365H358zM355 362H363V363H355zM355 362H358V363H355z" fill="#000"/>
<path d="M367 361H371V364H367zM363 362H367V363H363z" fill="#fff"/>
<rect x="341" y="359" width="14" height="7" fill="#000"/>
<rect x="342" y="360" width="1" height="5" fill="#fff"/>
<rect x="347" y="360" width="2" height="5" fill="#fff"/>
<rect x="353" y="360" width="1" height="5" fill="#fff"/>
<rect x="584" y="311" width="89" height="42" fill="#000"/>
<path d="M587 313.5H671" stroke="#fff" stroke-width="1" stroke-dasharray="4 2" fill="none"/>
<path d="M586 350.5H671" stroke="#fff" stroke-width="1" stroke-dasharray="4 2" fill="none"/>
<rect x="671" y="326" width="2" height="12" fill="#fff"/>
<rect x="608" y="325" width="41" height="14" fill="#fff"/>
<rect x="584" y="358" width="127" height="42" fill="#000"/>
<rect x="709" y="373" width="2" height="12" fill="#fff"/>
<path d="M586 398.5H709" stroke="#fff" stroke-width="1" stroke-dasharray="4 2" fill="none"/>
<rect x="634" y="372" width="28" height="14" fill="#fff"/>
<rect x="425" y="429" width="277" height="16" fill="#000"/>
<rect x="426" y="430" width="275" height="14" fill="#fff"/>
<path d="M426 432H433V433H426zM426 438H433V439H426zM433 430H437V443H433zM437 431H446V432H437zM445 431H446V440H445zM444 439H446V440H444zM443 437H444V443H443zM438 437H444V438H438zM438 437H439V440H438zM437 439H439V440H437zM433 442H444V443H433zM695 432H701V433H695zM695 438H701V439H695zM691 430H693V443H691zM694 430H695V443H694zM693 431H694V432H693zM681 431H691V432H681zM681 431H682V440H681zM681 439H684V440H681zM683 437H684V443H683zM683 437H689V438H683zM688 437H689V440H688zM688 439H691V440H688zM683 442H695V443H683zM448 431H679V442H448z" fill="#000"/>
<path d="M451 432h1v5h-1zM454 432h1v5h-1zM456 432h1v5h-1zM459 432h1v5h-1zM461 432h1v5h-1zM464 432h1v5h-1zM467 432h1v5h-1zM469 432h1v5h-1zM472 432h1v5h-1zM475 432h1v5h-1zM477 432h1v5h-1zM480 432h1v5h-1zM482 432h1v5h-1zM485 432h1v5h-1zM488 432h1v5h-1zM490 432h1v5h-1zM493 432h1v5h-1zM496 432h1v5h-1zM498 432h1v5h-1zM501 432h1v5h-1zM503 432h1v5h-1zM506 432h1v5h-1zM509 432h1v5h-1zM511 432h1v5h-1zM514 432h1v5h-1zM517 432h1v5h-1zM519 432h1v5h-1zM522 432h1v5h-1zM524 432h1v5h-1zM527 432h1v5h-1zM530 432h1v5h-1zM532 432h1v5h-1zM535 432h1v5h-1zM537 432h1v5h-1zM540 432h1v5h-1zM543 432h1v5h-1zM545 432h1v5h-1zM548 432h1v5h-1zM551 432h1v5h-1zM553 432h1v5h-1zM556 432h1v5h-1zM558 432h1v5h-1zM561 432h1v5h-1zM564 432h1v5h-1zM566 432h1v5h-1zM569 432h1v5h-1zM572 432h1v5h-1zM574 432h1v5h-1zM577 432h1v5h-1zM579 432h1v5h-1zM582 432h1v5h-1zM585 432h1v5h-1zM587 432h1v5h-1zM590 432h1v5h-1zM592 432h1v5h-1zM595 432h1v5h-1zM598 432h1v5h-1zM600 432h1v5h-1zM603 432h1v5h-1zM606 432h1v5h-1zM608 432h1v5h-1zM611 432h1v5h-1zM613 432h1v5h-1zM616 432h1v5h-1zM619 432h1v5h-1zM621 432h1v5h-1zM624 432h1v5h-1zM627 432h1v5h-1zM629 432h1v5h-1zM632 432h1v5h-1zM634 432h1v5h-1zM637 432h1v5h-1zM640 432h1v5h-1zM642 432h1v5h-1zM645 432h1v5h-1zM648 432h1v5h-1zM650 432h1v5h-1zM653 432h1v5h-1zM655 432h1v5h-1zM658 432h1v5h-1zM661 432h1v5h-1zM663 432h1v5h-1zM666 432h1v5h-1zM668 432h1v5h-1zM671 432h1v5h-1zM674 432h1v5h-1zM676 432h1v5h-1z" fill="#fff"/>
<rect x="425" y="446" width="277" height="15" fill="#000"/>
<rect x="426" y="447" width="275" height="13" fill="#fff"/>
<path d="M426 449H433V450H426zM426 454H433V455H426zM433 447H437V459H433zM437 448H446V449H437zM445 448H446V457H445zM444 456H446V457H444zM443 454H444V459H443zM438 454H444V455H438zM438 454H439V457H438zM437 456H439V457H437zM433 458H444V459H433zM695 449H701V450H695zM695 454H701V455H695zM691 447H693V459H691zM694 447H695V459H694zM693 448H694V449H693zM681 448H691V449H681zM681 448H682V457H681zM681 456H684V457H681zM683 454H684V459H683zM683 454H689V455H683zM688 454H689V457H688zM688 456H691V457H688zM683 458H695V459H683zM448 448H679V459H448z" fill="#000"/>
<path d="M451 449h1v5h-1zM454 449h1v5h-1zM456 449h1v5h-1zM459 449h1v5h-1zM461 449h1v5h-1zM464 449h1v5h-1zM467 449h1v5h-1zM469 449h1v5h-1zM472 449h1v5h-1zM475 449h1v5h-1zM477 449h1v5h-1zM480 449h1v5h-1zM482 449h1v5h-1zM485 449h1v5h-1zM488 449h1v5h-1zM490 449h1v5h-1zM493 449h1v5h-1zM496 449h1v5h-1zM498 449h1v5h-1zM501 449h1v5h-1zM503 449h1v5h-1zM506 449h1v5h-1zM509 449h1v5h-1zM511 449h1v5h-1zM514 449h1v5h-1zM517 449h1v5h-1zM519 449h1v5h-1zM522 449h1v5h-1zM524 449h1v5h-1zM527 449h1v5h-1zM530 449h1v5h-1zM532 449h1v5h-1zM535 449h1v5h-1zM537 449h1v5h-1zM540 449h1v5h-1zM543 449h1v5h-1zM545 449h1v5h-1zM548 449h1v5h-1zM551 449h1v5h-1zM553 449h1v5h-1zM556 449h1v5h-1zM558 449h1v5h-1zM561 449h1v5h-1zM564 449h1v5h-1zM566 449h1v5h-1zM569 449h1v5h-1zM572 449h1v5h-1zM574 449h1v5h-1zM577 449h1v5h-1zM579 449h1v5h-1zM582 449h1v5h-1zM585 449h1v5h-1zM587 449h1v5h-1zM590 449h1v5h-1zM592 449h1v5h-1zM595 449h1v5h-1zM598 449h1v5h-1zM600 449h1v5h-1zM603 449h1v5h-1zM606 449h1v5h-1zM608 449h1v5h-1zM611 449h1v5h-1zM613 449h1v5h-1zM616 449h1v5h-1zM619 449h1v5h-1zM621 449h1v5h-1zM624 449h1v5h-1zM627 449h1v5h-1zM629 449h1v5h-1zM632 449h1v5h-1zM634 449h1v5h-1zM637 449h1v5h-1zM640 449h1v5h-1zM642 449h1v5h-1zM645 449h1v5h-1zM648 449h1v5h-1zM650 449h1v5h-1zM653 449h1v5h-1zM655 449h1v5h-1zM658 449h1v5h-1zM661 449h1v5h-1zM663 449h1v5h-1zM666 449h1v5h-1zM668 449h1v5h-1zM671 449h1v5h-1zM674 449h1v5h-1zM676 449h1v5h-1z" fill="#fff"/>
<rect x="425" y="462" width="277" height="16" fill="#000"/>
<rect x="426" y="463" width="275" height="14" fill="#fff"/>
<path d="M426 466H433V467H426zM426 472H433V473H426zM433 464H437V476H433zM437 465H446V466H437zM445 465H446V474H445zM444 473H446V474H444zM443 471H444V476H443zM438 471H444V472H438zM438 471H439V474H438zM437 473H439V474H437zM433 475H444V476H433zM695 466H701V467H695zM695 472H701V473H695zM691 464H693V476H691zM694 464H695V476H694zM693 465H694V466H693zM681 465H691V466H681zM681 465H682V474H681zM681 473H684V474H681zM683 471H684V476H683zM683 471H689V472H683zM688 471H689V474H688zM688 473H691V474H688zM683 475H695V476H683zM448 465H679V476H448z" fill="#000"/>
<path d="M451 466h1v5h-1zM454 466h1v5h-1zM456 466h1v5h-1zM459 466h1v5h-1zM461 466h1v5h-1zM464 466h1v5h-1zM467 466h1v5h-1zM469 466h1v5h-1zM472 466h1v5h-1zM475 466h1v5h-1zM477 466h1v5h-1zM480 466h1v5h-1zM482 466h1v5h-1zM485 466h1v5h-1zM488 466h1v5h-1zM490 466h1v5h-1zM493 466h1v5h-1zM496 466h1v5h-1zM498 466h1v5h-1zM501 466h1v5h-1zM503 466h1v5h-1zM506 466h1v5h-1zM509 466h1v5h-1zM511 466h1v5h-1zM514 466h1v5h-1zM517 466h1v5h-1zM519 466h1v5h-1zM522 466h1v5h-1zM524 466h1v5h-1zM527 466h1v5h-1zM530 466h1v5h-1zM532 466h1v5h-1zM535 466h1v5h-1zM537 466h1v5h-1zM540 466h1v5h-1zM543 466h1v5h-1zM545 466h1v5h-1zM548 466h1v5h-1zM551 466h1v5h-1zM553 466h1v5h-1zM556 466h1v5h-1zM558 466h1v5h-1zM561 466h1v5h-1zM564 466h1v5h-1zM566 466h1v5h-1zM569 466h1v5h-1zM572 466h1v5h-1zM574 466h1v5h-1zM577 466h1v5h-1zM579 466h1v5h-1zM582 466h1v5h-1zM585 466h1v5h-1zM587 466h1v5h-1zM590 466h1v5h-1zM592 466h1v5h-1zM595 466h1v5h-1zM598 466h1v5h-1zM600 466h1v5h-1zM603 466h1v5h-1zM606 466h1v5h-1zM608 466h1v5h-1zM611 466h1v5h-1zM613 466h1v5h-1zM616 466h1v5h-1zM619 466h1v5h-1zM621 466h1v5h-1zM624 466h1v5h-1zM627 466h1v5h-1zM629 466h1v5h-1zM632 466h1v5h-1zM634 466h1v5h-1zM637 466h1v5h-1zM640 466h1v5h-1zM642 466h1v5h-1zM645 466h1v5h-1zM648 466h1v5h-1zM650 466h1v5h-1zM653 466h1v5h-1zM655 466h1v5h-1zM658 466h1v5h-1zM661 466h1v5h-1zM663 466h1v5h-1zM666 466h1v5h-1zM668 466h1v5h-1zM671 466h1v5h-1zM674 466h1v5h-1zM676 466h1v5h-1z" fill="#fff"/>
<rect x="425" y="479" width="277" height="16" fill="#000"/>
<rect x="426" y="480" width="275" height="14" fill="#fff"/>
<path d="M426 483H433V484H426zM426 489H433V490H426zM433 481H437V493H433zM437 482H446V483H437zM445 482H446V491H445zM444 490H446V491H444zM443 488H444V493H443zM438 488H444V489H438zM438 488H439V491H438zM437 490H439V491H437zM433 492H444V493H433zM695 483H701V484H695zM695 489H701V490H695zM691 481H693V493H691zM694 481H695V493H694zM693 482H694V483H693zM681 482H691V483H681zM681 482H682V491H681zM681 490H684V491H681zM683 488H684V493H683zM683 488H689V489H683zM688 488H689V491H688zM688 490H691V491H688zM683 492H695V493H683zM448 482H679V493H448z" fill="#000"/>
<path d="M451 483h1v5h-1zM454 483h1v5h-1zM456 483h1v5h-1zM459 483h1v5h-1zM461 483h1v5h-1zM464 483h1v5h-1zM467 483h1v5h-1zM469 483h1v5h-1zM472 483h1v5h-1zM475 483h1v5h-1zM477 483h1v5h-1zM480 483h1v5h-1zM482 483h1v5h-1zM485 483h1v5h-1zM488 483h1v5h-1zM490 483h1v5h-1zM493 483h1v5h-1zM496 483h1v5h-1zM498 483h1v5h-1zM501 483h1v5h-1zM503 483h1v5h-1zM506 483h1v5h-1zM509 483h1v5h-1zM511 483h1v5h-1zM514 483h1v5h-1zM517 483h1v5h-1zM519 483h1v5h-1zM522 483h1v5h-1zM524 483h1v5h-1zM527 483h1v5h-1zM530 483h1v5h-1zM532 483h1v5h-1zM535 483h1v5h-1zM537 483h1v5h-1zM540 483h1v5h-1zM543 483h1v5h-1zM545 483h1v5h-1zM548 483h1v5h-1zM551 483h1v5h-1zM553 483h1v5h-1zM556 483h1v5h-1zM558 483h1v5h-1zM561 483h1v5h-1zM564 483h1v5h-1zM566 483h1v5h-1zM569 483h1v5h-1zM572 483h1v5h-1zM574 483h1v5h-1zM577 483h1v5h-1zM579 483h1v5h-1zM582 483h1v5h-1zM585 483h1v5h-1zM587 483h1v5h-1zM590 483h1v5h-1zM592 483h1v5h-1zM595 483h1v5h-1zM598 483h1v5h-1zM600 483h1v5h-1zM603 483h1v5h-1zM606 483h1v5h-1zM608 483h1v5h-1zM611 483h1v5h-1zM613 483h1v5h-1zM616 483h1v5h-1zM619 483h1v5h-1zM621 483h1v5h-1zM624 483h1v5h-1zM627 483h1v5h-1zM629 483h1v5h-1zM632 483h1v5h-1zM634 483h1v5h-1zM637 483h1v5h-1zM640 483h1v5h-1zM642 483h1v5h-1zM645 483h1v5h-1zM648 483h1v5h-1zM650 483h1v5h-1zM653 483h1v5h-1zM655 483h1v5h-1zM658 483h1v5h-1zM661 483h1v5h-1zM663 483h1v5h-1zM666 483h1v5h-1zM668 483h1v5h-1zM671 483h1v5h-1zM674 483h1v5h-1zM676 483h1v5h-1z" fill="#fff"/>
<polygon points="536,426 591,426 593,428 593,495 591,497 536,497 534,495 534,428" fill="#000"/>
<rect x="536" y="429" width="55" height="14" fill="#fff"/>
<rect x="536" y="446" width="55" height="14" fill="#fff"/>
<rect x="536" y="463" width="55" height="14" fill="#fff"/>
<rect x="536" y="481" width="55" height="14" fill="#fff"/>
<polygon points="544,406 576,406 578,408 578,423 576,425 544,425 542,423 542,408" fill="#000"/>
<polygon points="546,408 575,408 576,409 576,421 575,422 546,422 545,421 545,409" fill="#fff"/>
<path d="M576 411H581V413H576zM580 412H590V414H580zM579 415H590V417H579zM576 416H581V418H576zM585 412H590V417H585zM584 414H593V415H584zM590 413H593V416H590z" fill="#000"/>
<path d="M576 413H580V416H576zM580 414H585V415H580z" fill="#fff"/>
<rect x="593" y="412" width="13" height="6" fill="#000"/>
<rect x="594" y="413" width="1" height="4" fill="#fff"/>
<rect x="599" y="413" width="1" height="4" fill="#fff"/>
<polygon points="623,425 654,425 655,426 655,442 654,443 623,443 622,442 622,426" fill="#000"/>
<polygon points="625,427 652,427 653,428 653,440 652,441 625,441 624,440 624,428" fill="#fff"/>
<polygon points="659.8,418 664.2,418 655.7,427 651.3,427" fill="#000"/>
<line x1="660.5" y1="420.5" x2="653" y2="428" stroke="#fff" stroke-width="1" />
<rect x="654" y="412" width="14" height="6" fill="#000"/>
<rect x="655" y="413" width="1" height="4" fill="#fff"/>
<rect x="660" y="413" width="2" height="4" fill="#fff"/>
<rect x="666" y="413" width="1" height="4" fill="#fff"/>
<rect x="716" y="401" width="24" height="113" fill="#000"/>
<rect x="717" y="402" width="22" height="111" fill="#fff"/>
<path d="M719 407H726V414H719zM719 417H726V424H719zM719 426H726V433H719zM719 435H726V442H719zM719 445H726V452H719zM719 454H726V461H719zM719 463H726V470H719zM719 472H726V479H719zM719 481H726V488H719zM719 490H726V498H719zM719 501H726V508H719zM727 403H730V410H727zM734 403H736V410H734zM733 405H737V408H733zM727 412H730V419H727zM734 412H736V419H734zM733 414H737V417H733zM727 422H730V429H727zM734 422H736V429H734zM733 424H737V427H733zM727 430H730V437H727zM734 430H736V437H734zM733 432H737V435H733zM727 440H730V447H727zM734 440H736V447H734zM733 442H737V445H733zM727 449H730V456H727zM734 449H736V456H734zM733 451H737V454H733zM727 458H730V465H727zM734 458H736V465H734zM733 460H737V463H733zM727 467H730V474H727zM734 467H736V474H734zM733 469H737V472H733zM727 477H730V484H727zM734 477H736V484H734zM733 479H737V482H733zM727 486H730V493H727zM734 486H736V493H734zM733 488H737V491H733zM727 495H730V503H727zM734 495H736V503H734zM733 497H737V501H733zM727 504H730V512H727zM734 504H736V512H734zM733 506H737V510H733zM732 402H733V513H732zM719 402H722V405H719zM719 404H726V405H719zM724 401H726V405H724zM719 510H726V511H719zM719 510H721V514H719zM724 510H726V514H724z" fill="#000"/>
<path d="M720 408H725V413H720zM720 418H725V423H720zM720 427H725V432H720zM720 436H725V441H720zM720 446H725V451H720zM720 455H725V460H720zM720 464H725V469H720zM720 473H725V478H720zM720 482H725V487H720zM720 491H725V497H720zM720 502H725V507H720zM722 401H724V404H722zM720 402H721V404H720zM721 511H724V514H721zM720 511H721V512H720zM724 511H725V512H724z" fill="#fff"/>
<path d="M754 385.5L751.5 386.5L749.5 390V392L751.5 396V401.5L749.5 405V407L751.5 411V416.5L749.5 420V422L751.5 425L754 426.5H772L775 425L776.5 422V420L774.5 416.5V411L776.5 407V405L774.5 401.5V396L776.5 392V390L775 386.5L772 385.5Z" fill="#fff" stroke="#000" stroke-width="1"/>
<polygon points="750,452 774,452 774,447 777,447 777,445 780,445 780,496 777,496 777,494 774,494 774,489 750,489 750,481 748,481 748,458 750,458" fill="#000"/>
<rect x="744" y="460" width="5" height="9" fill="#000"/>
<rect x="745" y="461" width="3" height="7" fill="#fff"/>
<rect x="744" y="472" width="5" height="9" fill="#000"/>
<rect x="745" y="473" width="3" height="7" fill="#fff"/>
<rect x="749" y="468" width="2" height="5" fill="#fff"/>
</g>
<g filter="url(#bw)">
<text transform="translate(290.52,24) scale(0.7200,1)" x="0.00 11.97 23.16" font-size="14.53" fill="#000">SL1</text>
<text transform="translate(290.52,69) scale(0.7200,1)" x="0.00 13.36 22.15" font-size="14.53" fill="#000">SL2</text>
<text transform="translate(291.52,113) scale(0.7200,1)" x="0.00 13.36 23.72" font-size="14.53" fill="#000">SL3</text>
<text transform="translate(17.51,56) scale(0.7500,1)" x="0.00 9.48" font-size="13.1" fill="#000">20</text>
<text transform="translate(47.25,56) scale(0.7500,1)" x="0.00 8.49" font-size="13.1" fill="#000">10</text>
<text transform="translate(65.84,91) scale(0.7200,1)" x="0.00 9.37" font-size="14.53" fill="#000">J5</text>
<text transform="translate(165.84,45) scale(0.7200,1)" x="0.00 10.15 22.73 31.43" font-size="14.53" fill="#000">JP16</text>
<text transform="translate(248.84,45) scale(0.7200,1)" x="0.00 10.15 22.73 31.59" font-size="14.53" fill="#000">JP15</text>
<text transform="translate(293.84,143) scale(0.7200,1)" x="0.00 10.15 21.77" font-size="14.53" fill="#000">JP9</text>
<text transform="translate(712.84,90) scale(0.7200,1)" x="0.00 9.40" font-size="14.53" fill="#000">J3</text>
<text transform="translate(713.84,270) scale(0.7200,1)" x="0.00 10.15 22.73" font-size="14.53" fill="#000">JP1</text>
<text transform="translate(750.84,333) scale(0.7200,1)" x="0.00 9.22" font-size="14.53" fill="#000">J2</text>
<text transform="translate(138.47,201) scale(0.7200,1)" x="0.00 14.82 28.78" font-size="14.53" fill="#000">CPU</text>
<text transform="translate(184.27,297) scale(0.7200,1)" x="0.00 10.02 22.51" font-size="14.53" fill="#000">TAG</text>
<text transform="scale(0.7200,1)" x="143.25 143.03 143.25 141.86 143.34" y="387 402 417 431 446" font-size="14.53" fill="#000">BANK1</text>
<text transform="scale(0.7200,1)" x="268.25 268.03 268.25 266.86 268.88" y="387 402 417 431 446" font-size="14.53" fill="#000">BANK0</text>
<text transform="translate(130.50,415) scale(0.7200,1)" x="0.00 13.17 23.61 38.46 50.96" font-size="13.8" fill="#000">CACHE</text>
<text transform="translate(272.84,250) scale(0.7200,1)" x="0.00 10.15 22.73 31.62" font-size="14.53" fill="#000">JP13</text>
<text transform="translate(339.84,249) scale(0.7200,1)" x="0.00 10.15 22.73 31.06" font-size="14.53" fill="#000">JP11</text>
<text transform="translate(255.84,276) scale(0.7200,1)" x="0.00 10.15 22.73 31.84" font-size="14.53" fill="#000">JP14</text>
<text transform="translate(355.84,276) scale(0.7200,1)" x="0.00 10.15 22.73 31.60" font-size="14.53" fill="#000">JP10</text>
<text transform="translate(306.84,311) scale(0.7200,1)" x="0.00 10.15 22.73 31.44" font-size="14.53" fill="#000">JP12</text>
<text transform="translate(490.84,305) scale(0.7200,1)" x="0.00 10.15 21.87" font-size="14.53" fill="#000">JP5</text>
<text transform="translate(466.84,329) scale(0.7200,1)" x="0.00 10.15 21.70" font-size="14.53" fill="#000">JP7</text>
<text transform="translate(484.84,354) scale(0.7200,1)" x="0.00 10.15 21.71" font-size="14.53" fill="#000">JP6</text>
<text transform="translate(374.84,366) scale(0.7200,1)" x="0.00 10.15 21.82" font-size="14.53" fill="#000">JP8</text>
<text transform="translate(612.14,337) scale(0.7200,1)" x="0.00 12.35 18.56 32.48" font-size="14.53" fill="#000">BIOS</text>
<text transform="translate(634.14,383) scale(0.7200,1)" x="0.00 12.50 25.00" font-size="14.53" fill="#000">KBD</text>
<text transform="translate(540.14,441) scale(0.7200,1)" x="0.00 12.27 23.61 36.11 48.41 56.19" font-size="14.53" fill="#000">BANK 3</text>
<text transform="translate(539.14,458) scale(0.7200,1)" x="0.00 12.27 24.31 36.81 49.80 57.41" font-size="14.53" fill="#000">BANK 2</text>
<text transform="translate(540.14,476) scale(0.7200,1)" x="0.00 12.27 23.61 36.11 48.41 57.03" font-size="14.53" fill="#000">BANK 1</text>
<text transform="translate(539.14,493) scale(0.7200,1)" x="0.00 12.27 24.31 36.81 49.80 57.57" font-size="14.53" fill="#000">BANK 0</text>
<text transform="translate(548.84,419) scale(0.7200,1)" x="0.00 10.15 22.12" font-size="14.53" fill="#000">JP4</text>
<text transform="translate(626.84,438) scale(0.7200,1)" x="0.00 10.15 21.72" font-size="14.53" fill="#000">JP2</text>
<text transform="translate(604.73,46) scale(0.7200,1)" x="0.00 12.50 24.72 34.80 44.21 53.88" font-size="13.1" fill="#000">MH2497</text>
</g>
<g filter="url(#bw2)">
<text transform="rotate(90,0,0) translate(223.97,-71) scale(0.8500,1)" x="0.00 13.93 29.23" font-size="17" fill="#fff">AMP</text>
</g>
</svg>
</body>
</html>
